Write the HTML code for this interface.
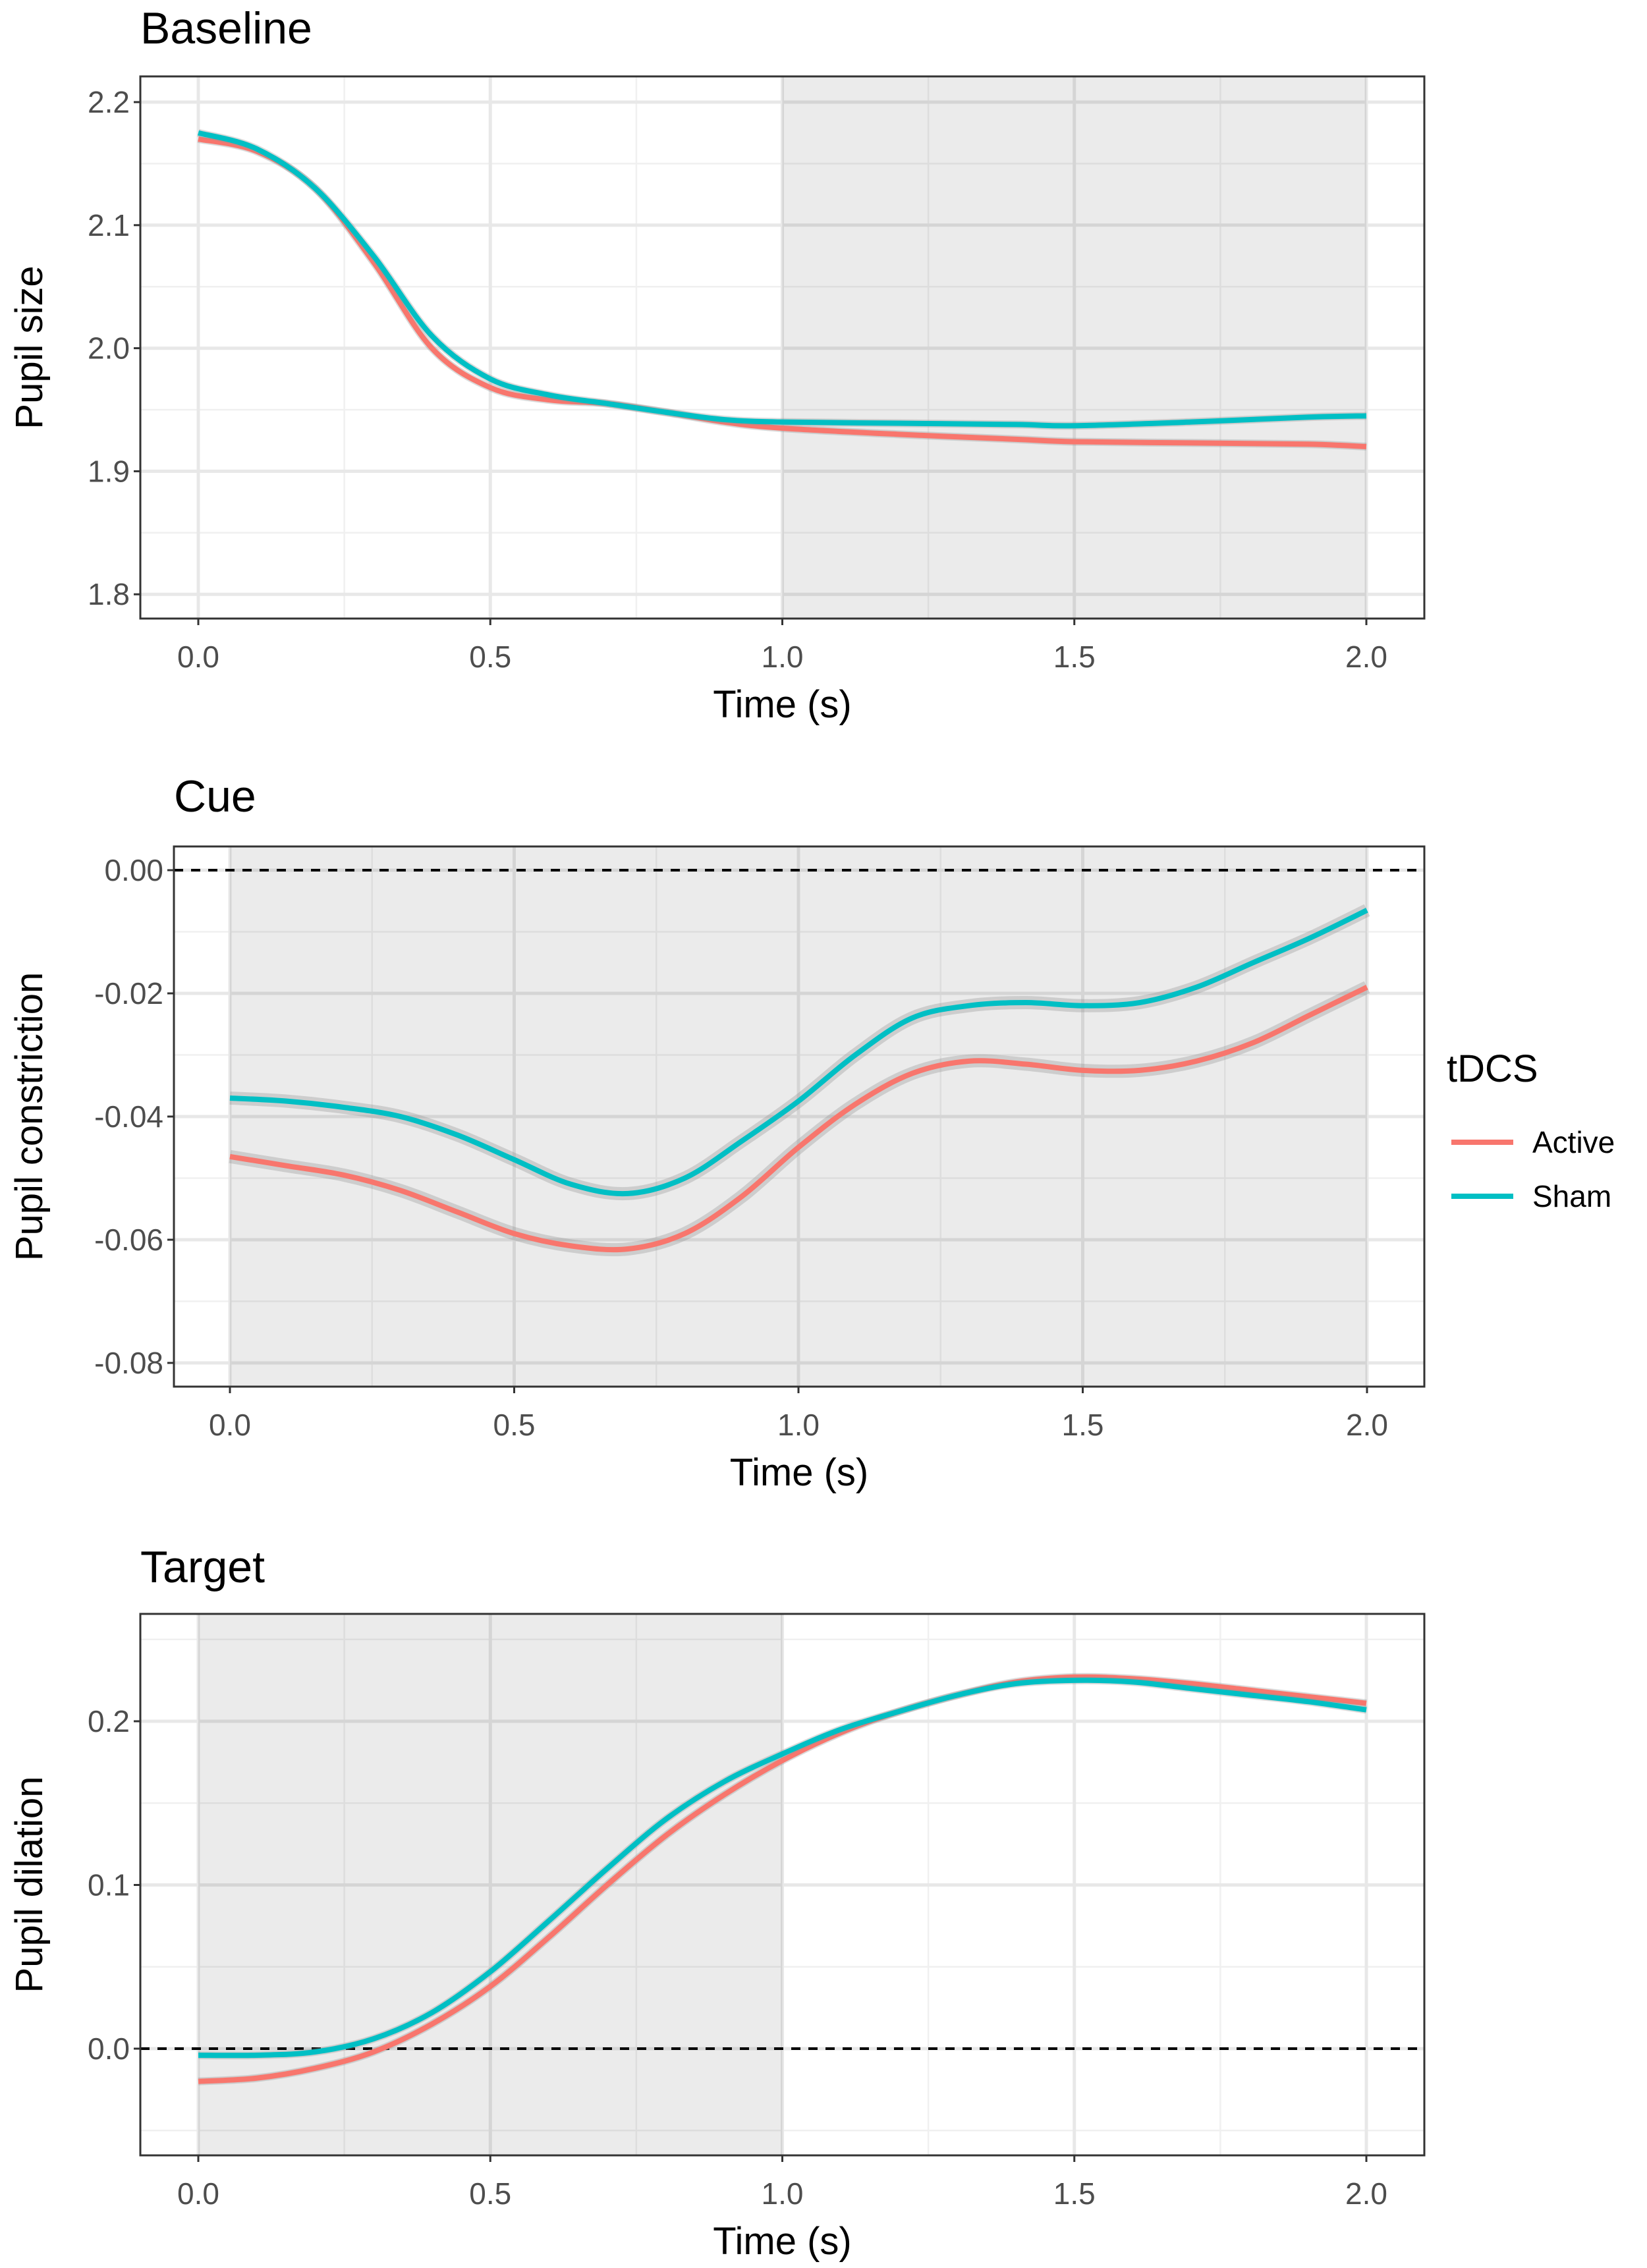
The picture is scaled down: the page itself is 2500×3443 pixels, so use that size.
<!DOCTYPE html>
<html><head><meta charset="utf-8">
<style>
html,body{margin:0;padding:0;background:#fff;}
svg{display:block;font-family:"Liberation Sans",Arial,sans-serif;}
</style></head>
<body>
<svg id="chart" width="2500" height="3443" viewBox="0 0 2500 3443" xmlns="http://www.w3.org/2000/svg">
<rect width="2500" height="3443" fill="#fff"/>
</svg>
<script>
// ---- data ----
const baseT = [0,0.1,0.2,0.3,0.4,0.5,0.6,0.7,0.8,0.9,1.0,1.2,1.4,1.5,1.7,1.9,2.0];
const baseActive = [2.170,2.160,2.130,2.070,2.000,1.968,1.958,1.955,1.948,1.940,1.935,1.930,1.926,1.924,1.923,1.922,1.920];
const baseSham = [2.175,2.162,2.130,2.075,2.010,1.975,1.962,1.955,1.948,1.942,1.940,1.939,1.938,1.937,1.940,1.944,1.945];
const cueT = [0,0.1,0.2,0.3,0.4,0.5,0.6,0.7,0.8,0.9,1.0,1.1,1.2,1.3,1.4,1.5,1.6,1.7,1.8,1.9,2.0];
const cueActive = [-0.0465,-0.048,-0.0495,-0.052,-0.0555,-0.059,-0.061,-0.0615,-0.059,-0.053,-0.045,-0.038,-0.033,-0.031,-0.0315,-0.0325,-0.0325,-0.031,-0.028,-0.0235,-0.019];
const cueSham = [-0.037,-0.0375,-0.0385,-0.040,-0.043,-0.047,-0.051,-0.0525,-0.050,-0.044,-0.0375,-0.030,-0.024,-0.022,-0.0215,-0.022,-0.0215,-0.019,-0.015,-0.011,-0.0065];
const tgtT = [0,0.1,0.2,0.3,0.4,0.5,0.6,0.7,0.8,0.9,1.0,1.1,1.2,1.3,1.4,1.5,1.6,1.7,1.8,1.9,2.0];
const tgtActive = [-0.020,-0.018,-0.012,-0.002,0.015,0.038,0.068,0.100,0.130,0.155,0.176,0.193,0.206,0.216,0.224,0.227,0.226,0.223,0.219,0.215,0.211];
const tgtSham = [-0.004,-0.004,-0.002,0.006,0.022,0.047,0.078,0.110,0.140,0.163,0.180,0.195,0.206,0.216,0.223,0.225,0.224,0.220,0.216,0.212,0.207];
const xTicks = [0,0.5,1.0,1.5,2.0];
const xTickLabels = ["0.0","0.5","1.0","1.5","2.0"];
const baseYTicks = [1.8,1.9,2.0,2.1,2.2];
const baseYLabels = ["1.8","1.9","2.0","2.1","2.2"];
const cueYTicks = [-0.08,-0.06,-0.04,-0.02,0.00];
const cueYLabels = ["-0.08","-0.06","-0.04","-0.02","0.00"];
const tgtYTicks = [0.0,0.1,0.2];
const tgtYLabels = ["0.0","0.1","0.2"];
const seriesNames = ["Active","Sham"];
const seriesColors = ["#F8766D","#00BFC4"];

const NS="http://www.w3.org/2000/svg";
const svg=document.getElementById('chart');
function mk(tag,attrs,parent){const e=document.createElementNS(NS,tag);for(const k in attrs)e.setAttribute(k,attrs[k]);(parent||svg).appendChild(e);return e;}
function smooth(pts){let d="M"+pts[0][0]+","+pts[0][1];for(let i=0;i<pts.length-1;i++){const p0=pts[Math.max(0,i-1)],p1=pts[i],p2=pts[i+1],p3=pts[Math.min(pts.length-1,i+2)];const c1=[p1[0]+(p2[0]-p0[0])/6,p1[1]+(p2[1]-p0[1])/6],c2=[p2[0]-(p3[0]-p1[0])/6,p2[1]-(p3[1]-p1[1])/6];d+=" C"+c1[0]+","+c1[1]+" "+c2[0]+","+c2[1]+" "+p2[0]+","+p2[1];}return d;}

function panel(o){
  const g=mk('g',{});
  
  
  const X=v=>o.x0px+(v)*(o.x2px-o.x0px)/2;
  const Y=v=>o.yRefPx+(o.yRef-v)*o.pxPerUnit;
  mk('rect',{x:o.L,y:o.T,width:o.R-o.L,height:o.B-o.T,fill:'#fff'},g);
  for(const v of o.yMinor){mk('line',{x1:o.L,x2:o.R,y1:Y(v),y2:Y(v),stroke:'#f0f0f0','stroke-width':2.5},g);}
  for(let v=0.25;v<2;v+=0.5){mk('line',{x1:X(v),x2:X(v),y1:o.T,y2:o.B,stroke:'#f0f0f0','stroke-width':2.5},g);}
  for(const v of o.yTicks){mk('line',{x1:o.L,x2:o.R,y1:Y(v),y2:Y(v),stroke:'#e8e8e8','stroke-width':5},g);}
  for(const v of xTicks){mk('line',{x1:X(v),x2:X(v),y1:o.T,y2:o.B,stroke:'#e8e8e8','stroke-width':5},g);}
  const sh=mk('rect',{x:X(o.shade[0]),y:o.T,width:X(o.shade[1])-X(o.shade[0]),height:o.B-o.T,fill:'rgba(0,0,0,0.08)'},g);
  
  
  if(o.zero){const z=mk('line',{x1:o.L,x2:o.R,y1:Y(0),y2:Y(0),stroke:'#000','stroke-width':4,'stroke-dasharray':'14,12'},g);
    
    }
  o.series.forEach((s,i)=>{
    const pts=o.t.map((t,j)=>[X(t),Y(s[j])]);
    const rib=mk('path',{d:smooth(pts),fill:'none',stroke:'rgba(150,150,150,0.35)','stroke-width':o.ribbon,'stroke-linecap':'butt'},g);
    
    
    const p=mk('path',{d:smooth(pts),fill:'none',stroke:seriesColors[i],'stroke-width':8},g);
    
    
  });
  mk('rect',{x:o.L,y:o.T,width:o.R-o.L,height:o.B-o.T,fill:'none',stroke:'#333','stroke-width':3},g);
  o.yTicks.forEach((v,i)=>{
    mk('line',{x1:o.L-10,x2:o.L,y1:Y(v),y2:Y(v),stroke:'#333','stroke-width':3},g);
    const t=mk('text',{x:o.L-16,y:Y(v)+16,'text-anchor':'end','font-size':46,fill:'#4d4d4d'},g);t.textContent=o.yLabels[i];
    
    
  });
  xTicks.forEach((v,i)=>{
    mk('line',{x1:X(v),x2:X(v),y1:o.B,y2:o.B+10,stroke:'#333','stroke-width':3},g);
    const t=mk('text',{x:X(v),y:o.B+74,'text-anchor':'middle','font-size':46,fill:'#4d4d4d'},g);t.textContent=xTickLabels[i];
    
    
  });
  const xt=mk('text',{x:(o.L+o.R)/2,y:o.B+150,'text-anchor':'middle','font-size':58,fill:'#000'},g);xt.textContent='Time (s)';
  
  
  const cy=(o.T+o.B)/2;
  const yt=mk('text',{x:64,y:cy,'text-anchor':'middle','font-size':58,fill:'#000',transform:'rotate(-90 64 '+cy+')'},g);yt.textContent=o.ytitle;
  
  
  const tt=mk('text',{x:o.L,y:o.titleY,'font-size':68,fill:'#000'},g);tt.textContent=o.title;
  
  
}

panel({name:'baseline',title:'Baseline',ytitle:'Pupil size',L:213,R:2162,T:116,B:939,x0px:301,x2px:2074,
  yRef:2.2,yRefPx:155,pxPerUnit:1868,yTicks:baseYTicks,yLabels:baseYLabels,yMinor:[1.85,1.95,2.05,2.15],
  shade:[1,2],zero:false,t:baseT,series:[baseActive,baseSham],ribbon:12,titleY:66});
panel({name:'cue',title:'Cue',ytitle:'Pupil constriction',L:264,R:2162,T:1285,B:2105,x0px:349,x2px:2075,
  yRef:0,yRefPx:1321,pxPerUnit:9350,yTicks:cueYTicks,yLabels:cueYLabels,yMinor:[-0.07,-0.05,-0.03,-0.01],
  shade:[0,2],zero:true,t:cueT,series:[cueActive,cueSham],ribbon:20,titleY:1232});
panel({name:'target',title:'Target',ytitle:'Pupil dilation',L:213,R:2162,T:2450,B:3272,x0px:301,x2px:2074,
  yRef:0,yRefPx:3110,pxPerUnit:2485,yTicks:tgtYTicks,yLabels:tgtYLabels,yMinor:[-0.05,0.05,0.15,0.25],
  shade:[0,1],zero:true,t:tgtT,series:[tgtActive,tgtSham],ribbon:12,titleY:2402});

// legend
const lg=mk('g',{});


const lt=mk('text',{x:2196,y:1642,'font-size':58,fill:'#000'},lg);lt.textContent='tDCS';


seriesNames.forEach((n,i)=>{
  const y=1734+i*82;
  const e=mk('g',{},lg);
  
  
  mk('line',{x1:2203,x2:2297,y1:y,y2:y,stroke:seriesColors[i],'stroke-width':8},e);
  const t=mk('text',{x:2326,y:y+16,'font-size':46,fill:'#000'},e);t.textContent=n;
});
</script>
</body></html>
